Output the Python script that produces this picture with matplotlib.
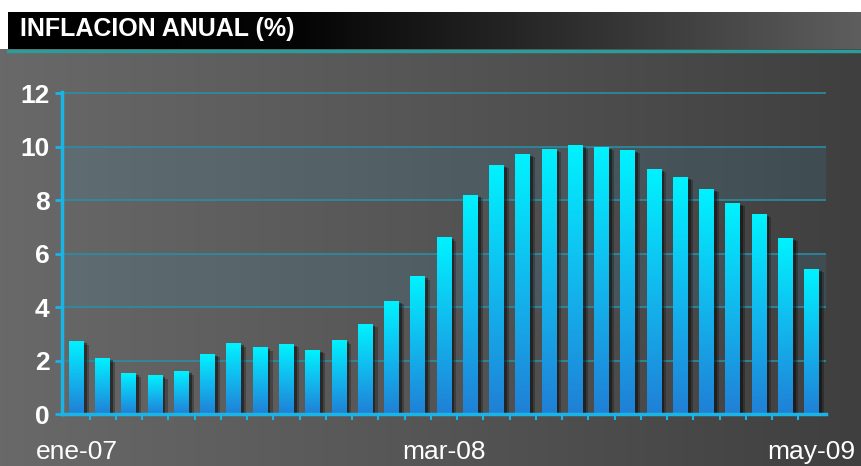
import numpy as np
import matplotlib.pyplot as plt
from matplotlib import patheffects as pe
from matplotlib.colors import LinearSegmentedColormap
from matplotlib.patches import Rectangle

plt.rcParams['font.family'] = ['Liberation Sans', 'DejaVu Sans']

# monthly annual inflation, ene-07 .. may-09
meses = ["ene", "feb", "mar", "abr", "may", "jun",
         "jul", "ago", "sep", "oct", "nov", "dic"]
anios = ["07", "08", "09"]
periodos = [f"{m}-{a}" for a in anios for m in meses][:29]
inflacion = [2.70, 2.06, 1.50, 1.43, 1.58, 2.24, 2.62, 2.48, 2.61, 2.39,
             2.74, 3.35, 4.22, 5.13, 6.59, 8.19, 9.30, 9.71, 9.89, 10.03,
             9.98, 9.87, 9.16, 8.85, 8.40, 7.88, 7.48, 6.57, 5.42]
etiquetas_x = ["ene-07", "mar-08", "may-09"]

W, H = 861, 466
fig = plt.figure(figsize=(W / 100, H / 100), dpi=100)

# background + title bar
bg = fig.add_axes([0, 0, 1, 1], zorder=-10)
bg.axis("off")
hgrad = np.linspace(0, 1, 256)[None, :]
cmap_bg = LinearSegmentedColormap.from_list("bg", ["#696969", "#555555", "#3f3f3f"])
bg.imshow(hgrad, extent=[0, 1, 0, 1], aspect="auto", cmap=cmap_bg)
cmap_tit = LinearSegmentedColormap.from_list(
    "tit", [(0, "#000000"), (0.35, "#050505"), (0.65, "#2c2c2c"), (1, "#5e5e5e")])
bg.imshow(hgrad, extent=[0, 1, 1 - 49 / H, 1 - 12 / H], aspect="auto", cmap=cmap_tit)
bg.add_patch(Rectangle((0, 1 - 12 / H), 1, 12 / H, color="white", lw=0))
bg.add_patch(Rectangle((0, 1 - 49 / H), 8 / W, 37 / H, color="white", lw=0))
bg.axhline(1 - 50.5 / H, xmin=8 / W, color="#2a9c9a", lw=2.5)
bg.set_xlim(0, 1)
bg.set_ylim(0, 1)
fig.text(20 / W, 1 - 29 / H, "INFLACION ANUAL (%)", color="white",
         fontsize=18, fontweight="bold", va="center", ha="left")

# chart
ax = fig.add_axes([62 / W, 1 - 414 / H, (826 - 62) / W, (414 - 92) / H])
ax.patch.set_alpha(0)

x = np.arange(len(inflacion))
sombra = [pe.SimplePatchShadow(offset=(3.5, -2), shadow_rgbFace="black", alpha=0.25),
          pe.SimplePatchShadow(offset=(2, -1), shadow_rgbFace="black", alpha=0.4),
          pe.Normal()]
bars = ax.bar(x, inflacion, width=0.57, color="#1a9ae0", zorder=3, lw=0,
              path_effects=sombra)
cmap_bar = LinearSegmentedColormap.from_list("bar", ["#2080d6", "#12b8ee", "#00f2ff"])
vgrad = np.linspace(0, 1, 100)[:, None]
for b in bars:
    ax.imshow(vgrad, extent=[b.get_x(), b.get_x() + b.get_width(), 0, b.get_height()],
              origin="lower", aspect="auto", cmap=cmap_bar, zorder=4)

for lo in (4, 8):
    ax.axhspan(lo, lo + 2, color="#3a90b4", alpha=0.16, lw=0, zorder=0)

ax.set_xlim(-0.55, 28.55)
ax.set_ylim(0, 12.05)
ax.set_yticks(range(0, 13, 2))
ax.grid(axis="y", color="#2a8ea6", lw=1.3, alpha=0.9, zorder=1)
ax.set_axisbelow(True)

for s in ("top", "right"):
    ax.spines[s].set_visible(False)
for s in ("left", "bottom"):
    ax.spines[s].set_color("#1ab4e6")
    ax.spines[s].set_linewidth(2.5)
    ax.spines[s].set_zorder(6)

ax.tick_params(axis="y", length=5, width=2, color="#1ab4e6",
               labelcolor="white", labelsize=19, pad=4)
for lab in ax.get_yticklabels():
    lab.set_fontweight("bold")

ax.set_xticks([periodos.index(p) for p in etiquetas_x])
ax.set_xticklabels(etiquetas_x)
ax.set_xticks(np.arange(0.5, len(inflacion) - 1, 1), minor=True)
ax.tick_params(axis="x", which="major", length=0, pad=19,
               labelcolor="white", labelsize=19)
ax.tick_params(axis="x", which="minor", length=4, width=1.5, color="#1ab4e6")

fig.savefig("out.png", dpi=100)
